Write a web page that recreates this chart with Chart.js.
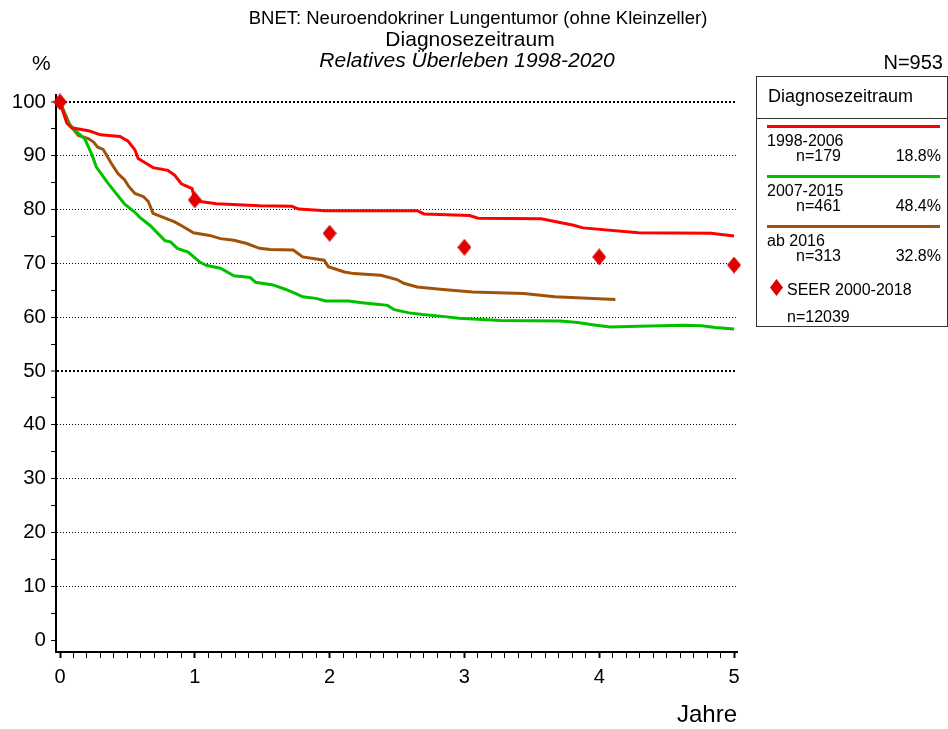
<!DOCTYPE html>
<html>
<head>
<meta charset="utf-8">
<script src="https://cdn.jsdelivr.net/npm/chart.js@4.4.1/dist/chart.umd.min.js"></script>
<style>
  html, body { margin: 0; padding: 0; background: #fff; }
  #wrap { position: relative; width: 948px; height: 729px; overflow: hidden;
          font-family: "Liberation Sans", Arial, sans-serif; color: #000; }
  #chart { position: absolute; left: 0; top: 0; }
  .t { position: absolute; white-space: nowrap; line-height: 1; }
  .c { transform: translateX(-50%); }
  #legend { position: absolute; left: 756px; top: 76px; width: 190px; height: 249px;
            border: 1px solid #333; background: #fff; }
  #legend .hdr { position: absolute; left: 11px; top: 10px; font-size: 18px; line-height: 1; }
  #legend .sep { position: absolute; left: 0; right: 0; top: 41px; border-top: 1px solid #333; }
  #legend .ln { position: absolute; left: 10px; width: 173px; height: 3px; }
  #legend .lbl, #legend .n, #legend .pct { position: absolute; font-size: 16px; line-height: 1; }
  #legend .pct { right: 6px; }
</style>
</head>
<body>
<div id="wrap">
  <canvas id="chart" width="948" height="729"></canvas>
  <div class="t c" style="left:478px; top:9px; font-size:18.5px;">BNET: Neuroendokriner Lungentumor (ohne Kleinzeller)</div>
  <div class="t c" style="left:470px; top:28px; font-size:21px;">Diagnosezeitraum</div>
  <div class="t c" style="left:467px; top:49px; font-size:21px; font-style:italic;">Relatives Überleben 1998-2020</div>
  <div class="t" style="left:32px; top:52px; font-size:21px;">%</div>
  <div class="t" style="right:5px; top:52px; font-size:20px;">N=953</div>
  <div class="t" style="right:211px; top:702px; font-size:24px;">Jahre</div>
  <div id="legend"></div>
</div>
<script>
// Relative survival curves (years, %)
const redYears = [0, 0.05, 0.087, 0.22, 0.30, 0.445, 0.505, 0.556, 0.58, 0.69, 0.80, 0.85, 0.90, 0.98, 1.0, 1.04, 1.16, 1.48, 1.72, 1.77, 1.97, 2.65, 2.70, 3.04, 3.10, 3.57, 3.81, 3.88, 4.29, 4.83, 5.0];
const redSurv  = [100, 96.1, 95.2, 94.6, 93.9, 93.6, 92.7, 91.1, 89.5, 87.8, 87.3, 86.4, 84.8, 83.9, 81.8, 81.5, 81.1, 80.7, 80.6, 80.1, 79.8, 79.8, 79.2, 78.9, 78.4, 78.3, 77.1, 76.6, 75.7, 75.6, 75.1];

const greenYears = [0, 0.05, 0.10, 0.185, 0.235, 0.27, 0.35, 0.41, 0.48, 0.556, 0.59, 0.67, 0.74, 0.78, 0.82, 0.87, 0.95, 1.04, 1.09, 1.19, 1.29, 1.41, 1.45, 1.58, 1.67, 1.75, 1.80, 1.90, 1.97, 2.14, 2.24, 2.35, 2.43, 2.48, 2.59, 2.69, 2.82, 2.96, 3.27, 3.71, 3.84, 3.95, 4.08, 4.29, 4.63, 4.76, 4.86, 5.0];
const greenSurv  = [100, 96.5, 95.0, 93.1, 90.3, 87.9, 85.1, 83.2, 81.0, 79.5, 78.6, 77.0, 75.2, 74.2, 74.0, 72.8, 72.1, 70.2, 69.6, 69.1, 67.7, 67.4, 66.5, 66.0, 65.2, 64.4, 63.8, 63.5, 63.0, 63.0, 62.7, 62.4, 62.2, 61.4, 60.8, 60.5, 60.2, 59.8, 59.4, 59.3, 59.0, 58.6, 58.2, 58.3, 58.5, 58.4, 58.1, 57.8];

const brownYears = [0, 0.074, 0.136, 0.21, 0.247, 0.28, 0.32, 0.38, 0.43, 0.48, 0.51, 0.556, 0.62, 0.655, 0.69, 0.78, 0.85, 0.915, 0.99, 1.11, 1.19, 1.29, 1.385, 1.48, 1.56, 1.73, 1.80, 1.96, 1.99, 2.11, 2.18, 2.38, 2.50, 2.55, 2.65, 2.82, 3.06, 3.44, 3.67, 4.12];
const brownSurv  = [100, 95.7, 93.8, 93.2, 92.6, 91.6, 91.2, 88.6, 86.7, 85.5, 84.3, 83.0, 82.4, 81.5, 79.3, 78.4, 77.7, 76.8, 75.7, 75.2, 74.6, 74.3, 73.7, 72.8, 72.6, 72.5, 71.2, 70.6, 69.4, 68.4, 68.1, 67.8, 67.0, 66.3, 65.6, 65.2, 64.7, 64.4, 63.8, 63.3];

// SEER reference points
const seerYears = [0, 1, 2, 3, 4, 5];
const seerSurv  = [100, 81.8, 75.6, 73.0, 71.2, 69.7];

// Legend content
const groupLabels = ['1998-2006', '2007-2015', 'ab 2016'];
const groupN      = [179, 461, 313];
const groupPct    = ['18.8%', '48.4%', '32.8%'];
const groupColors = ['#ff0000', '#00c000', '#a0520a'];
const seerLabel = 'SEER 2000-2018';
const seerN = 12039;
const seerColor = '#e00000';

// Axis ticks
const yTicks = [0, 5, 10, 15, 20, 25, 30, 35, 40, 45, 50, 55, 60, 65, 70, 75, 80, 85, 90, 95, 100];
const xMajor = [0, 1, 2, 3, 4, 5];
const xTicks = [];
for (let i = 0; i <= 50; i++) xTicks.push(i / 10);

const FONT = '"Liberation Sans", Arial, sans-serif';

function pts(xs, ys) {
  return xs.map((x, i) => ({ x: x, y: ys[i] }));
}

function lineSet(label, xs, ys, color) {
  return {
    label: label,
    data: pts(xs, ys),
    borderColor: color,
    backgroundColor: color,
    borderWidth: 3,
    pointRadius: 0,
    tension: 0,
    fill: false,
    order: 2
  };
}

// tall diamond marker, like the SEER symbol in the original
function diamond(w, h, color) {
  const c = document.createElement('canvas');
  c.width = w; c.height = h;
  const g = c.getContext('2d');
  g.fillStyle = color;
  g.beginPath();
  g.moveTo(w / 2, 0);
  g.lineTo(w, h / 2);
  g.lineTo(w / 2, h);
  g.lineTo(0, h / 2);
  g.closePath();
  g.fill();
  return c;
}

const ctx = document.getElementById('chart').getContext('2d');
new Chart(ctx, {
  type: 'line',
  data: {
    datasets: [
      lineSet(groupLabels[0], redYears, redSurv, groupColors[0]),
      lineSet(groupLabels[1], greenYears, greenSurv, groupColors[1]),
      lineSet(groupLabels[2], brownYears, brownSurv, groupColors[2]),
      {
        label: seerLabel,
        data: pts(seerYears, seerSurv),
        showLine: false,
        clip: false,
        pointStyle: diamond(14, 17, seerColor),
        pointRadius: 8,
        backgroundColor: seerColor,
        borderColor: seerColor,
        order: 1
      }
    ]
  },
  options: {
    responsive: false,
    animation: false,
    events: [],
    layout: { padding: { left: 0, top: 95, right: 211, bottom: 37 } },
    plugins: {
      legend: { display: false },
      title: { display: false },
      tooltip: { enabled: false }
    },
    scales: {
      x: {
        type: 'linear',
        min: -0.0297,
        max: 5.022,
        afterBuildTicks: s => { s.ticks = xTicks.map(v => ({ value: v })); },
        afterFit: s => { s.height = 40; },
        ticks: {
          autoSkip: false,
          maxRotation: 0,
          padding: 7,
          color: '#000',
          font: { family: FONT, size: 20 },
          callback: v => xMajor.includes(v) ? String(v) : ''
        },
        grid: {
          drawOnChartArea: false,
          tickLength: 6,
          tickColor: '#000',
          tickWidth: c => xMajor.includes(c.tick && c.tick.value) ? 2 : 1
        },
        border: { color: '#000', width: 2 }
      },
      y: {
        type: 'linear',
        min: -2.23,
        max: 101.3,
        afterBuildTicks: s => { s.ticks = yTicks.map(v => ({ value: v })); },
        afterFit: s => { s.width = 56; },
        ticks: {
          padding: 5,
          color: '#000',
          font: { family: FONT, size: 20.5 },
          callback: v => v % 10 === 0 ? String(v) : ''
        },
        grid: {
          color: c => (c.tick && c.tick.value % 10 === 0 && c.tick.value > 0) ? '#000' : 'rgba(0,0,0,0)',
          lineWidth: c => (c.tick && (c.tick.value === 100 || c.tick.value === 50)) ? 2 : 1,
          tickLength: 5,
          tickWidth: 1,
          tickColor: '#000'
        },
        border: {
          color: '#000',
          width: 2,
          dash: c => (c.tick && (c.tick.value === 100 || c.tick.value === 50)) ? [2, 2] : [1, 2]
        }
      }
    }
  }
});

// Legend box (HTML)
const lg = document.getElementById('legend');
let html = '<div class="hdr">Diagnosezeitraum</div><div class="sep"></div>';
const rowTop = [48, 98, 148];
groupLabels.forEach((lab, i) => {
  const t = rowTop[i];
  html += '<div class="ln" style="top:' + t + 'px;background:' + groupColors[i] + '"></div>';
  html += '<div class="lbl" style="left:10px;top:' + (t + 8) + 'px">' + lab + '</div>';
  html += '<div class="n" style="left:39px;top:' + (t + 23) + 'px">n=' + groupN[i] + '</div>';
  html += '<div class="pct" style="top:' + (t + 23) + 'px">' + groupPct[i] + '</div>';
});
html += '<div style="position:absolute;left:13px;top:202px;width:13px;height:17px;background:' + seerColor +
        ';clip-path:polygon(50% 0,100% 50%,50% 100%,0 50%);"></div>';
html += '<div class="lbl" style="left:30px;top:205px">' + seerLabel + '</div>';
html += '<div class="lbl" style="left:30px;top:232px">n=' + seerN + '</div>';
lg.innerHTML = html;
</script>
</body>
</html>
